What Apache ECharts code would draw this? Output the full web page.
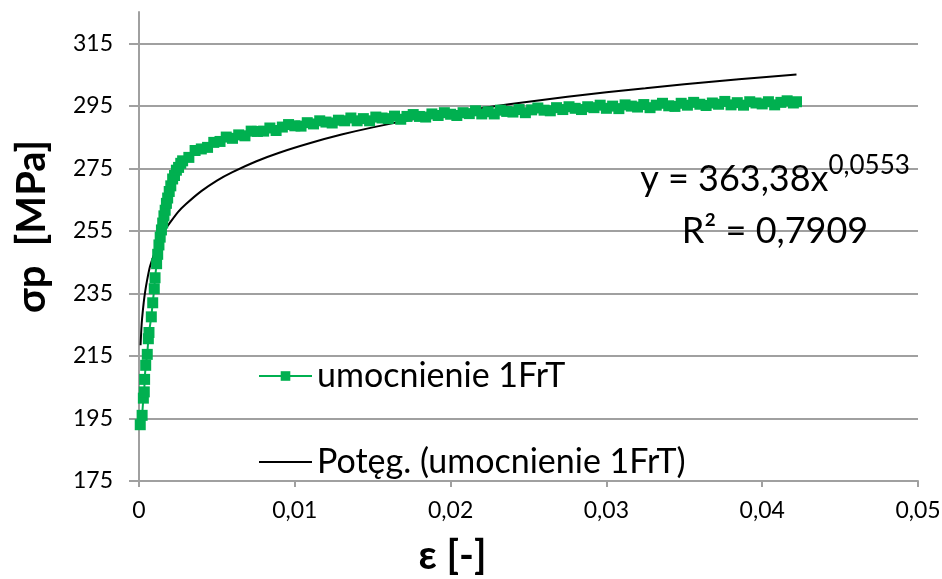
<!DOCTYPE html>
<html>
<head>
<meta charset="utf-8">
<title>umocnienie 1FrT</title>
<script src="https://cdn.jsdelivr.net/npm/echarts@6/dist/echarts.min.js"></script>
<style>
  html, body { margin: 0; padding: 0; background: #fff; }
  #chart { width: 942px; height: 579px; }
</style>
</head>
<body>
<div id="chart"></div>
<script>
// odkształcenie (strain) i naprężenie (stress)
var strain = [
  0.00008, 0.0002, 0.00028, 0.00034, 0.00036, 0.00043, 0.00053, 0.0006, 0.00064, 0.00079,
  0.00088, 0.00098, 0.00103, 0.00113, 0.0012, 0.00128, 0.00136, 0.00144, 0.00152, 0.0016,
  0.00168, 0.00176, 0.00184, 0.00194, 0.00204, 0.00216, 0.00228, 0.0024, 0.00254, 0.00268,
  0.0028, 0.0032, 0.0036, 0.004, 0.0044, 0.0048, 0.0052, 0.0056, 0.006, 0.0064,
  0.0068, 0.0072, 0.0076, 0.008, 0.0084, 0.0088, 0.0092, 0.0096, 0.01, 0.0104,
  0.0108, 0.0112, 0.0116, 0.012, 0.0124, 0.0128, 0.0132, 0.0136, 0.014, 0.0144,
  0.0148, 0.0152, 0.0156, 0.016, 0.0164, 0.0168, 0.0172, 0.0176, 0.018, 0.0184,
  0.0188, 0.0192, 0.0196, 0.02, 0.0204, 0.0208, 0.0212, 0.0216, 0.022, 0.0224,
  0.0228, 0.0232, 0.0236, 0.024, 0.0244, 0.0248, 0.0252, 0.0256, 0.026, 0.0264,
  0.0268, 0.0272, 0.0276, 0.028, 0.0284, 0.0288, 0.0292, 0.0296, 0.03, 0.0304,
  0.0308, 0.0312, 0.0316, 0.032, 0.0324, 0.0328, 0.0332, 0.0336, 0.034, 0.0344,
  0.0348, 0.0352, 0.0356, 0.036, 0.0364, 0.0368, 0.0372, 0.0376, 0.038, 0.0384,
  0.0388, 0.0392, 0.0396, 0.04, 0.0404, 0.0408, 0.0412, 0.0416, 0.042, 0.0422
];
var stress = [
  193, 196, 201.5, 203.5, 207.5, 212, 215.5, 220.5, 222.5, 227.5,
  232, 236.5, 240, 244.5, 247.5, 250.5, 253, 255.3, 257.5, 259.8,
  261.6, 263.8, 265.5, 267.6, 269.4, 271.6, 272.7, 274.4, 275.3, 276.6,
  277.4, 278.5, 280.7, 281.2, 281.7, 283.3, 283.6, 285.0, 284.6, 285.7,
  285.4, 286.9, 286.8, 286.9, 287.9, 287.1, 288.2, 289.0, 288.6, 288.5,
  289.6, 289.2, 290.2, 289.8, 289.5, 290.4, 290.2, 291.1, 290.2, 290.9,
  290.2, 291.4, 291.1, 290.9, 291.7, 290.7, 291.6, 292.2, 291.6, 291.4,
  292.4, 291.9, 292.8, 292.3, 291.9, 292.8, 292.5, 293.4, 292.4, 293.1,
  292.4, 293.6, 293.2, 293.0, 293.8, 292.8, 293.7, 294.3, 293.6, 293.4,
  294.4, 293.8, 294.7, 294.2, 293.8, 294.7, 294.4, 295.2, 294.2, 294.9,
  294.1, 295.3, 294.9, 294.6, 295.4, 294.4, 295.2, 295.8, 295.0, 294.8,
  295.8, 295.2, 296.1, 295.5, 295.1, 295.9, 295.5, 296.4, 295.3, 296.0,
  295.2, 296.3, 295.9, 295.6, 296.3, 295.3, 296.1, 296.6, 295.9, 296.3
];

// linia trendu (potęgowa)
var trendStrain = [0.0001, 0.00015, 0.0002, 0.0003, 0.0004, 0.0005, 0.0007, 0.001, 0.0013, 0.0016,
  0.002, 0.0025, 0.003, 0.004, 0.005, 0.006, 0.0075, 0.009, 0.011, 0.013,
  0.015, 0.0175, 0.02, 0.0225, 0.025, 0.0275, 0.03, 0.0325, 0.035, 0.0385, 0.0422];
var trendStress = [218.4, 223.6, 227.1, 232, 235.7, 238.7, 243.5, 248, 251.9, 254.9,
  257.7, 261, 263.5, 267.7, 271.1, 273.8, 277.2, 280, 283.1, 285.8,
  288.1, 290.6, 292.7, 294.6, 296.3, 297.9, 299.3, 300.6, 301.9, 303.5, 305];

var yTicks = ['175', '195', '215', '235', '255', '275', '295', '315'];
var xTicks = ['0', '0,01', '0,02', '0,03', '0,04', '0,05'];

var seriesName = 'umocnienie 1FrT';
var trendName = 'Potęg. (umocnienie 1FrT)';
var equation = ['y = 363,38x', '0,0553', 'R² = 0,7909'];

var font = 'Lato, "Open Sans", sans-serif';
var gridColor = '#a0a0a0';

function pairs(xs, ys) {
  return xs.map(function (x, i) { return [x, ys[i]]; });
}

var chart = echarts.init(document.getElementById('chart'));
chart.setOption({
  animation: false,
  backgroundColor: '#fff',
  grid: { left: 139, right: 24, top: 12, bottom: 98, containLabel: false, outerBoundsMode: 'none' },
  title: {
    text: '{a|' + equation[0] + '}{b|' + equation[1] + '}\n{a|' + equation[2] + '}',
    left: 770,
    top: 148,
    textAlign: 'center',
    textStyle: {
      fontWeight: 'normal',
      rich: {
        a: { fontFamily: font, fontSize: 36, fontWeight: 'normal', color: '#000', lineHeight: 52 },
        b: { fontFamily: font, fontSize: 26, fontWeight: 'normal', color: '#000', verticalAlign: 'top', lineHeight: 52 }
      }
    }
  },
  legend: {
    orient: 'vertical',
    left: 258,
    top: 356,
    padding: 0,
    itemWidth: 53,
    itemHeight: 12,
    itemGap: 46,
    data: [
      { name: seriesName },
      { name: trendName, itemStyle: { opacity: 0 } }
    ],
    textStyle: { fontFamily: font, fontSize: 34, color: '#000', lineHeight: 40 }
  },
  xAxis: {
    type: 'value',
    min: 0,
    max: 0.05,
    interval: 0.01,
    name: 'ε [-]',
    nameLocation: 'middle',
    nameGap: 55,
    nameTextStyle: { fontFamily: font, fontSize: 40, fontWeight: 'bold', color: '#000', padding: [0, 152, 0, 0] },
    axisLine: { lineStyle: { color: gridColor, width: 2 } },
    axisTick: { length: 6, lineStyle: { color: gridColor, width: 2 } },
    splitLine: { show: false },
    axisLabel: {
      fontFamily: font, fontSize: 23, color: '#000', margin: 18,
      formatter: function (v) { return xTicks[Math.round(v / 0.01)]; }
    }
  },
  yAxis: {
    type: 'value',
    min: 175,
    max: 325,
    interval: 20,
    name: 'σp  [MPa]',
    nameLocation: 'middle',
    nameGap: 87,
    nameTextStyle: { fontFamily: font, fontSize: 40, fontWeight: 'bold', color: '#000', padding: [0, 0, 0, 40] },
    axisLine: { show: true, lineStyle: { color: gridColor, width: 2 } },
    axisTick: { show: true, length: 10, lineStyle: { color: gridColor, width: 2 } },
    splitLine: { show: true, showMaxLine: false, lineStyle: { color: gridColor, width: 2 } },
    axisLabel: {
      fontFamily: font, fontSize: 23, color: '#000', margin: 26, showMaxLabel: false,
      formatter: function (v) { return yTicks[Math.round((v - 175) / 20)] || ''; }
    }
  },
  series: [
    {
      name: seriesName,
      type: 'line',
      data: pairs(strain, stress),
      symbol: 'rect',
      symbolSize: 11,
      showAllSymbol: true,
      itemStyle: { color: '#00b050' },
      lineStyle: { color: '#00b050', width: 2 }
    },
    {
      name: trendName,
      type: 'line',
      data: pairs(trendStrain, trendStress),
      symbol: 'none',
      smooth: 0.2,
      itemStyle: { color: '#000' },
      lineStyle: { color: '#000', width: 2 }
    }
  ]
});
</script>
</body>
</html>
